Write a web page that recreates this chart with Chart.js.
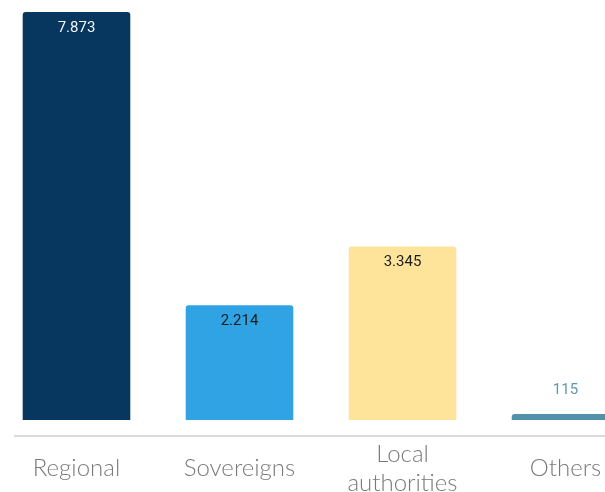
<!DOCTYPE html>
<html>
<head>
<meta charset="utf-8">
<script src="https://cdn.jsdelivr.net/npm/chart.js@4/dist/chart.umd.min.js"></script>
<style>
  html, body { margin: 0; padding: 0; background: #fff; overflow: hidden; width: 605px; height: 492px; }
  #wrap { position: absolute; left: -5px; top: 0; width: 652px; height: 546px; }
</style>
</head>
<body>
<div id="wrap"><canvas id="bars"></canvas></div>
<script>
const categories = [["Regional"], ["Sovereigns"], ["Local", "authorities"], ["Others"]];
const amounts = [7873, 2214, 3345, 115];
const barColors = ["#07365f", "#2fa3e4", "#fee39a", "#5390ab"];
const labelColors = ["#f2f4f7", "#1c1c1c", "#1c1c1c", "#5d98b2"];

// value labels: inside the bar top, or above it when the bar is too short
const valueLabels = {
  id: "valueLabels",
  afterDatasetsDraw(chart) {
    const ctx = chart.ctx;
    const meta = chart.getDatasetMeta(0);
    ctx.save();
    ctx.font = "15px Roboto";
    ctx.textAlign = "center";
    ctx.textBaseline = "middle";
    meta.data.forEach((bar, i) => {
      const h = bar.base - bar.y;
      const inside = h > 40;
      ctx.fillStyle = labelColors[i];
      const txt = amounts[i].toLocaleString("de-DE");
      ctx.fillText(txt, bar.x, inside ? bar.y + 16 : bar.y - 24);
    });
    ctx.restore();
  }
};

// thin baseline drawn a little under the bars
const baseLine = {
  id: "baseLine",
  afterDraw(chart) {
    const ctx = chart.ctx;
    const a = chart.chartArea;
    ctx.save();
    ctx.strokeStyle = "#dadada";
    ctx.lineWidth = 2;
    ctx.beginPath();
    ctx.moveTo(a.left + 19, a.bottom + 16);
    ctx.lineTo(a.right, a.bottom + 16);
    ctx.stroke();
    ctx.restore();
  }
};

new Chart(document.getElementById("bars").getContext("2d"), {
  type: "bar",
  data: {
    labels: categories,
    datasets: [{
      data: amounts,
      backgroundColor: barColors,
      borderRadius: { topLeft: 3, topRight: 3 },
      borderSkipped: "bottom",
      categoryPercentage: 0.66,
      barPercentage: 1
    }]
  },
  options: {
    responsive: true,
    maintainAspectRatio: false,
    animation: false,
    layout: { padding: { top: 12, left: 0, right: 0, bottom: 0 } },
    plugins: {
      legend: { display: false },
      tooltip: { enabled: false }
    },
    scales: {
      x: {
        border: { display: false },
        grid: { display: false, drawTicks: false },
        ticks: {
          color: "#7a7a7a",
          padding: 34,
          crossAlign: "center",
          maxRotation: 0,
          autoSkip: false,
          font: { family: "Lato", size: 24, weight: "300", lineHeight: 1.21 }
        }
      },
      y: {
        display: false,
        min: 0,
        max: Math.max(...amounts)
      }
    }
  },
  plugins: [valueLabels, baseLine]
});
</script>
</body>
</html>
